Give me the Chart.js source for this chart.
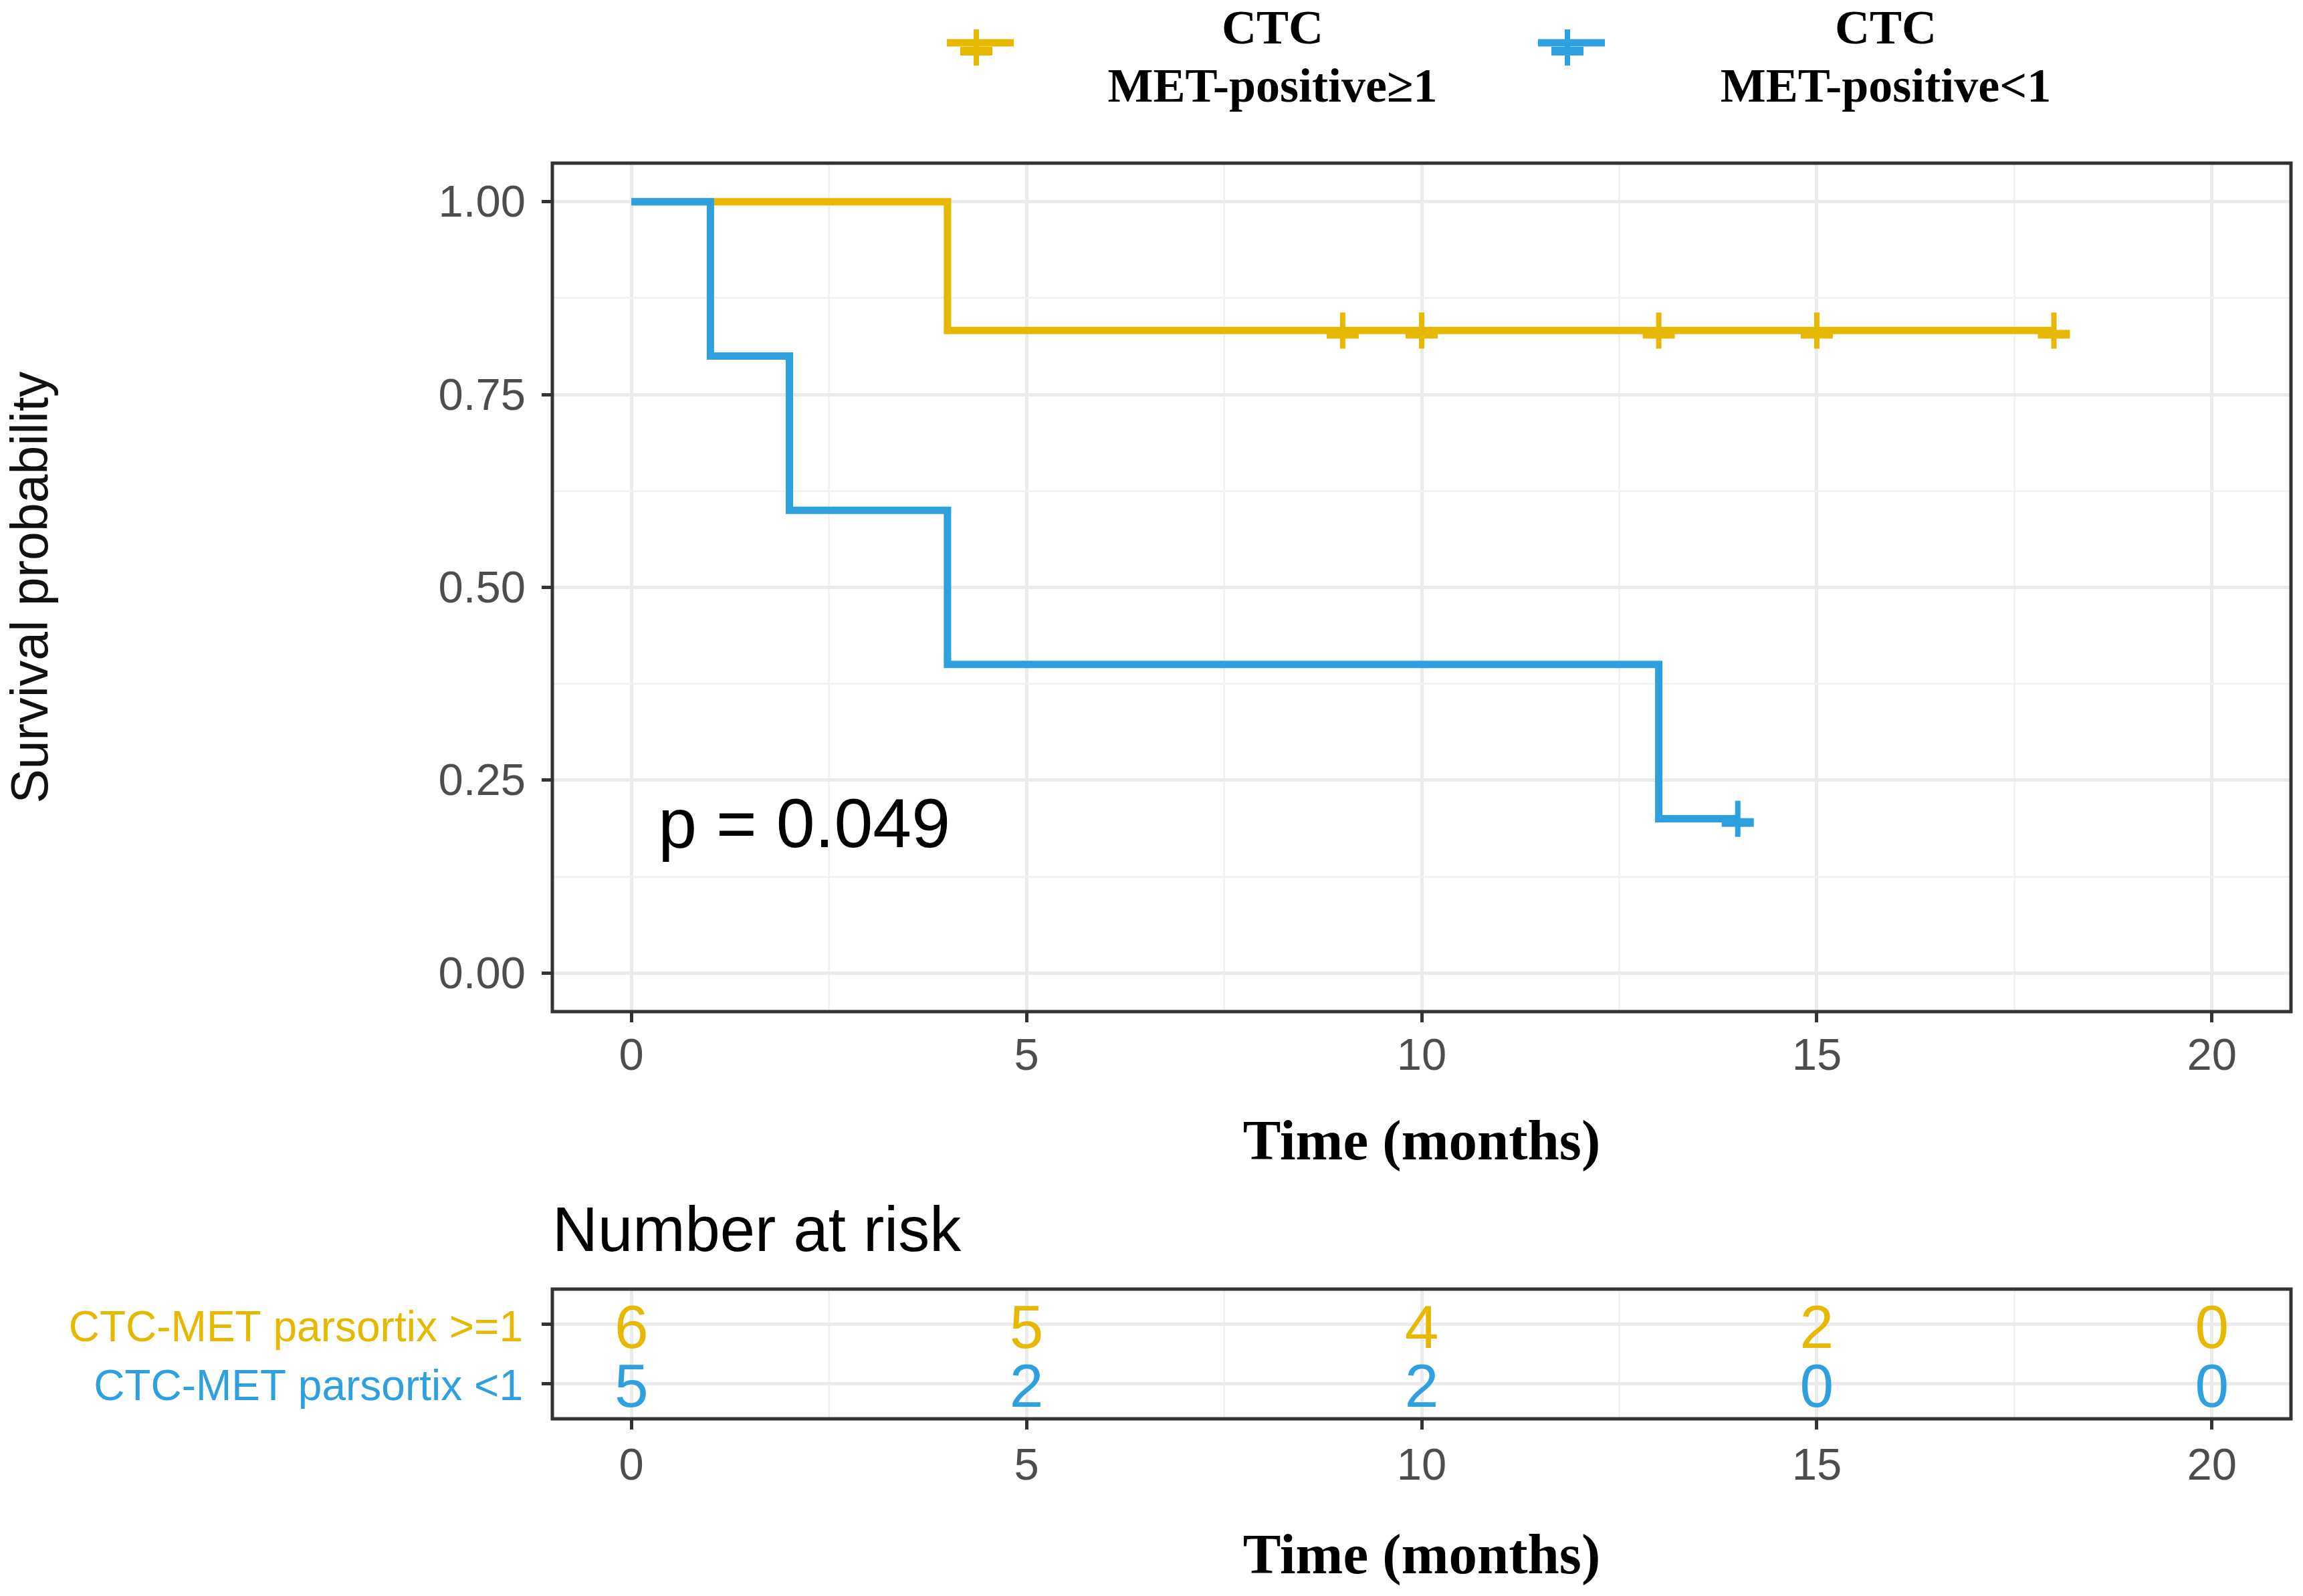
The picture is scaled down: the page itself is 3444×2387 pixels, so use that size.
<!DOCTYPE html>
<html><head><meta charset="utf-8">
<script src="https://cdn.jsdelivr.net/npm/chart.js@4.4.1/dist/chart.umd.min.js"></script>
<style>
html,body{margin:0;padding:0;background:#fff;width:3444px;height:2387px;overflow:hidden}
canvas{position:absolute;left:0}
#km{top:0}
#risk{top:1780px}
</style></head><body>
<canvas id="km" width="3444" height="1780" style="width:3444px;height:1780px"></canvas>
<canvas id="risk" width="3444" height="607" style="width:3444px;height:607px"></canvas>
<script>
// ---- data ----
const groupNames = ['CTC-MET parsortix >=1', 'CTC-MET parsortix <1'];
const legendLines = [['CTC', 'MET-positive\u22651'], ['CTC', 'MET-positive<1']];
const colors = ['#E7B800', '#2E9FDF'];
const highTimes = [0, 4, 18];
const highSurv = [1.0, 0.833, 0.833];
const highCensorTimes = [9, 10, 13, 15, 18];
const highCensorSurv = [0.833, 0.833, 0.833, 0.833, 0.833];
const lowTimes = [0, 1, 2, 4, 13, 14];
const lowSurv = [1.0, 0.8, 0.6, 0.4, 0.2, 0.2];
const lowCensorTimes = [14];
const lowCensorSurv = [0.2];
const xTicks = [0, 2.5, 5, 7.5, 10, 12.5, 15, 17.5, 20];
const xLabels = ['0', '', '5', '', '10', '', '15', '', '20'];
const yTicks = [0, 0.125, 0.25, 0.375, 0.5, 0.625, 0.75, 0.875, 1];
const yLabels = ['0.00', '', '0.25', '', '0.50', '', '0.75', '', '1.00'];
const riskTimes = [0, 5, 10, 15, 20];
const riskHigh = [6, 5, 4, 2, 0];
const riskLow = [5, 2, 2, 0, 0];
const riskRows = [2, 1];
const pText = 'p = 0.049';
const pPos = [0.34, 0.163];

const SANS = '"Liberation Sans", Arial, sans-serif';
const SERIF = '"Liberation Serif", "Times New Roman", serif';
const TICK = '#4D4D4D';

function pts(xs, ys) { return xs.map((x, i) => ({x: x, y: ys[i]})); }

// censor "+" glyph (slightly heavier lower horizontal bar, as in the ggplot rendering)
function plusGlyph(color) {
  const c = document.createElement('canvas');
  c.width = 50; c.height = 68;
  const g = c.getContext('2d');
  g.fillStyle = color;
  g.fillRect(21, 7, 8, 54);
  g.fillRect(1, 33, 48, 13);
  return c;
}

function gridOpts(labels) {
  return {
    color: c => labels[c.index] ? '#EBEBEB' : '#F2F2F2',
    lineWidth: c => labels[c.index] ? 5 : 3,
    tickColor: c => labels[c.index] ? '#333333' : 'rgba(0,0,0,0)',
    tickWidth: 5, tickLength: 16, drawTicks: true, drawOnChartArea: true
  };
}
function xScale(h, pad, titlePad) {
  return {
    type: 'linear', min: -1, max: 21,
    afterBuildTicks: s => { s.ticks = xTicks.map(v => ({value: v})); },
    afterFit: s => { s.height = h; s.paddingLeft = 0; s.paddingRight = 0; },
    ticks: {autoSkip: false, maxRotation: 0, minRotation: 0, padding: pad, color: TICK,
      font: {family: SANS, size: 67}, callback: (v, i) => xLabels[i]},
    grid: gridOpts(xLabels), border: {display: false},
    title: {display: true, text: 'Time (months)', color: '#000',
      font: {family: SERIF, size: 85, weight: 'bold', lineHeight: 1.2}, padding: {top: 0, bottom: titlePad}}
  };
}
const borderPlugin = {
  id: 'panelBorder',
  afterDraw(chart) {
    const a = chart.chartArea, ctx = chart.ctx;
    ctx.save(); ctx.strokeStyle = '#333333'; ctx.lineWidth = 5;
    ctx.strokeRect(a.left, a.top, a.right - a.left, a.bottom - a.top);
    ctx.restore();
  }
};
const kmExtras = {
  id: 'kmExtras',
  afterDatasetsDraw(chart) {
    const ctx = chart.ctx, xs = chart.scales.x, ys = chart.scales.y;
    ctx.save();
    ctx.fillStyle = '#000'; ctx.font = '104px ' + SANS;
    ctx.textAlign = 'left'; ctx.textBaseline = 'alphabetic';
    ctx.fillText(pText, xs.getPixelForValue(pPos[0]), ys.getPixelForValue(pPos[1]));
    ctx.restore();
  },
  afterDraw(chart) {
    const ctx = chart.ctx;
    const keys = [{kx: 1466, tx: 1903}, {kx: 2350, tx: 2820}];
    ctx.save();
    keys.forEach((k, i) => {
      ctx.strokeStyle = colors[i]; ctx.lineCap = 'butt';
      ctx.lineWidth = 11;
      ctx.beginPath(); ctx.moveTo(k.kx - 50, 64); ctx.lineTo(k.kx + 50, 64); ctx.stroke();
      ctx.drawImage(plusGlyph(colors[i]), k.kx - 31, 37);
      ctx.fillStyle = '#000'; ctx.font = 'bold 72px ' + SERIF;
      ctx.textAlign = 'center'; ctx.textBaseline = 'alphabetic';
      ctx.fillText(legendLines[i][0], k.tx, 65);
      ctx.fillText(legendLines[i][1], k.tx, 152);
    });
    ctx.restore();
  }
};

new Chart(document.getElementById('km'), {
  data: {
    datasets: [
      {type: 'line', data: pts(lowTimes, lowSurv), borderColor: colors[1], borderWidth: 11, stepped: 'before', pointRadius: 0, fill: false, order: 0},
      {type: 'scatter', data: pts(lowCensorTimes, lowCensorSurv), pointStyle: plusGlyph(colors[1]), pointRadius: 25, order: 0},
      {type: 'line', data: pts(highTimes, highSurv), borderColor: colors[0], borderWidth: 11, stepped: 'before', pointRadius: 0, fill: false, order: 1},
      {type: 'scatter', data: pts(highCensorTimes, highCensorSurv), pointStyle: plusGlyph(colors[0]), pointRadius: 25, order: 1}
    ]
  },
  options: {
    responsive: false, animation: false, devicePixelRatio: 1,
    layout: {autoPadding: false, padding: {top: 244, right: 18, left: 0, bottom: 0}},
    plugins: {legend: {display: false}, tooltip: {enabled: false}},
    scales: {
      x: xScale(267, 12, 17),
      y: {
        type: 'linear', min: -0.05, max: 1.05,
        afterBuildTicks: s => { s.ticks = yTicks.map(v => ({value: v})); },
        afterFit: s => { s.width = 826; },
        ticks: {autoSkip: false, padding: 24, labelOffset: 4, color: TICK, font: {family: SANS, size: 67}, callback: (v, i) => yLabels[i]},
        grid: gridOpts(yLabels), border: {display: false},
        title: {display: true, text: 'Survival probability', color: '#111',
          font: {family: SANS, size: 77, lineHeight: 1.2}, padding: {top: 4, bottom: 0}}
      }
    }
  },
  plugins: [borderPlugin, kmExtras]
});

const riskPlugin = {
  id: 'riskText',
  afterDatasetsDraw(chart) {
    const ctx = chart.ctx;
    ctx.save();
    ctx.font = '91px ' + SANS; ctx.textAlign = 'center'; ctx.textBaseline = 'middle';
    chart.data.datasets.forEach((ds, di) => {
      const meta = chart.getDatasetMeta(di);
      ctx.fillStyle = ds.textColor;
      meta.data.forEach((el, j) => { ctx.fillText(String(ds.data[j].n), el.x, el.y + 10); });
    });
    ctx.fillStyle = '#000'; ctx.font = '94px ' + SANS; ctx.textAlign = 'left'; ctx.textBaseline = 'alphabetic';
    ctx.fillText('Number at risk', chart.chartArea.left, 91);
    ctx.restore();
  }
};

new Chart(document.getElementById('risk'), {
  type: 'scatter',
  data: {
    datasets: [
      {data: riskTimes.map((t, i) => ({x: t, y: riskRows[0], n: riskHigh[i]})), pointRadius: 0, textColor: colors[0]},
      {data: riskTimes.map((t, i) => ({x: t, y: riskRows[1], n: riskLow[i]})), pointRadius: 0, textColor: colors[1]}
    ]
  },
  options: {
    responsive: false, animation: false, devicePixelRatio: 1,
    layout: {autoPadding: false, padding: {top: 148, right: 18, left: 0, bottom: 0}},
    plugins: {legend: {display: false}, tooltip: {enabled: false}},
    scales: {
      x: xScale(265, 16, 5),
      y: {
        type: 'linear', min: 0.4, max: 2.6,
        afterBuildTicks: s => { s.ticks = riskRows.map(v => ({value: v})); },
        afterFit: s => { s.width = 826; },
        ticks: {autoSkip: false, padding: 28, labelOffset: 7,
          color: c => c.tick && c.tick.value === riskRows[0] ? colors[0] : colors[1],
          font: {family: SANS, size: 64},
          callback: v => v === riskRows[0] ? groupNames[0] : groupNames[1]},
        grid: {color: '#EBEBEB', lineWidth: 5, tickColor: '#333333', tickWidth: 5, tickLength: 16},
        border: {display: false}
      }
    }
  },
  plugins: [borderPlugin, riskPlugin]
});
</script>
</body></html>
